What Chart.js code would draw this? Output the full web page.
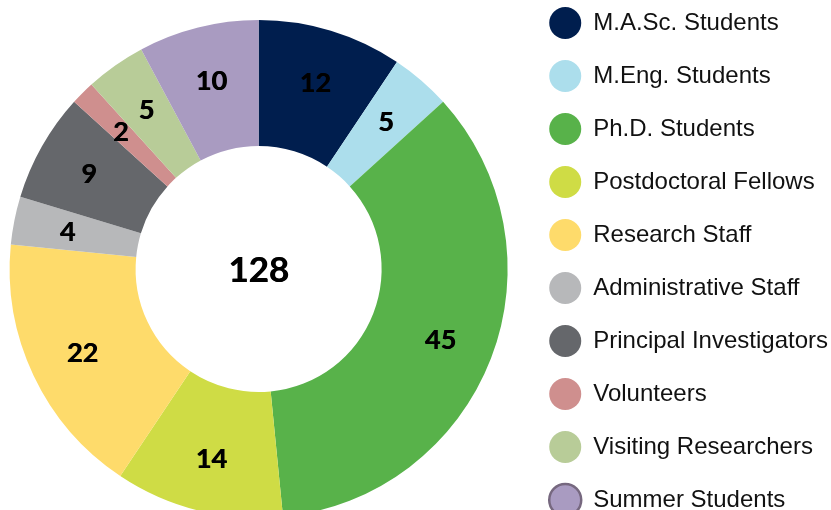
<!DOCTYPE html>
<html>
<head>
<meta charset="utf-8">
<script src="https://cdn.jsdelivr.net/npm/chart.js@4.4.1/dist/chart.umd.min.js"></script>
<style>
    html, body { margin: 0; padding: 0; background: #fff; overflow: hidden; width: 831px; height: 510px; }
    #wrap { position: absolute; left: -3px; top: -18px; width: 841px; height: 574px; }
</style>
</head>
<body>
<div id="wrap"><canvas id="grafico1" width="841" height="574"></canvas></div>
<script>
    var categorias = [
        'M.A.Sc. Students',
        'M.Eng. Students',
        'Ph.D. Students',
        'Postdoctoral Fellows',
        'Research Staff',
        'Administrative Staff',
        'Principal Investigators',
        'Volunteers',
        'Visiting Researchers',
        'Summer Students'
    ];
    var cantidad = [12, 5, 45, 14, 22, 4, 9, 2, 5, 10];

    const COLORS = [
        '#001e4e',
        '#acdeec',
        '#58b24a',
        '#cfdc45',
        '#fedb6b',
        '#b7b8ba',
        '#65676b',
        '#cf8f8e',
        '#b8cc98',
        '#a99bc1'
    ];

    var total = 0;
    for (var i in cantidad) {
        total += cantidad[i];
    }

    // numeros dentro de cada segmento + total al centro
    var etiquetas = {
        id: 'etiquetas',
        afterDatasetsDraw: function (chart) {
            var ctx = chart.ctx;
            var meta = chart.getDatasetMeta(0);
            ctx.save();
            ctx.fillStyle = '#000';
            ctx.textAlign = 'center';
            ctx.textBaseline = 'middle';
            ctx.font = 'bold 27px Lato';
            meta.data.forEach(function (arc, i) {
                var p = arc.getProps(['x', 'y', 'startAngle', 'endAngle', 'innerRadius', 'outerRadius'], true);
                var ang = (p.startAngle + p.endAngle) / 2;
                var r = p.innerRadius + (p.outerRadius - p.innerRadius) * 0.57;
                var tx = p.x + Math.cos(ang) * r;
                var ty = p.y + Math.sin(ang) * r + 1;
                ctx.fillText(String(cantidad[i]), tx, ty);
                ctx.fillText(String(cantidad[i]), tx + 0.6, ty);
            });
            var c = meta.data[0].getProps(['x', 'y'], true);
            ctx.font = 'bold 35px Lato';
            ctx.fillText(String(total), c.x, c.y + 2);
            ctx.fillText(String(total), c.x + 0.6, c.y + 2);
            ctx.restore();
        }
    };

    var chartdata = {
        labels: categorias,
        datasets: [
            {
                data: cantidad,
                backgroundColor: COLORS,
                borderWidth: 0
            }
        ]
    };

    var graphTarget = document.getElementById('grafico1');

    var donut = new Chart(graphTarget, {
        type: 'doughnut',
        data: chartdata,
        plugins: [etiquetas],
        options: {
            responsive: false,
            animation: false,
            devicePixelRatio: 1,
            radius: 249,
            cutout: '49.4%',
            layout: { padding: 0 },
            plugins: {
                tooltip: { enabled: false },
                legend: {
                    position: 'right',
                    align: 'start',
                    labels: {
                        usePointStyle: true,
                        pointStyle: 'circle',
                        pointStyleWidth: 32,
                        boxHeight: 22.6,
                        padding: 29,
                        color: '#111',
                        font: { family: 'Liberation Sans', size: 24 },
                        generateLabels: function (chart) {
                            var items = Chart.overrides.doughnut.plugins.legend.labels.generateLabels(chart);
                            items.forEach(function (it, i) {
                                it.lineWidth = 0;
                                if (i == items.length - 1) {
                                    it.lineWidth = 2.5;
                                    it.strokeStyle = '#76687f';
                                }
                            });
                            return items;
                        }
                    }
                }
            }
        }
    });
</script>
</body>
</html>
